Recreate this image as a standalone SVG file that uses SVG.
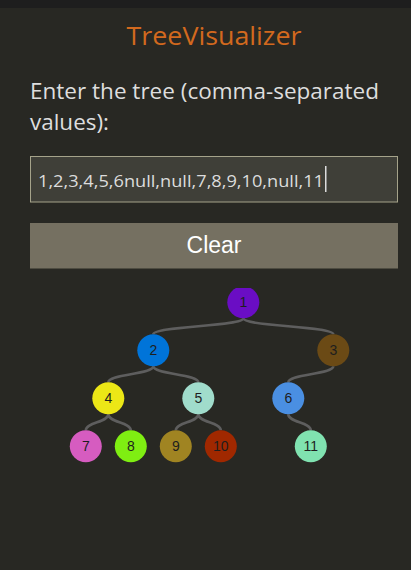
<svg xmlns="http://www.w3.org/2000/svg" width="411" height="570" viewBox="0 0 411 570">
<defs>
<style>
.ui{font-family:"Open Sans","Noto Sans","DejaVu Sans",sans-serif;}
.edge{fill:none;stroke:#5e5e5e;stroke-width:2.6;}
.node circle{stroke:none;}
.node text{font-family:"Liberation Sans",Arial,sans-serif;font-size:14px;fill:#1e1e1e;text-anchor:middle;dominant-baseline:central;}
</style>
<clipPath id="treeClip"><rect x="0" y="288" width="411" height="282"/></clipPath>
</defs>
<rect x="0" y="0" width="411" height="570" fill="#282823"/>
<rect x="0" y="0" width="411" height="8" fill="#1e1e1e"/>
<g id="title"><text class="ui" x="214" y="45" font-size="26" fill="#d2691e" text-anchor="middle" textLength="175" lengthAdjust="spacingAndGlyphs">TreeVisualizer</text></g>
<g id="label">
<text class="ui" x="30" y="99" font-size="21" fill="#dedede" textLength="349" lengthAdjust="spacingAndGlyphs">Enter the tree (comma-separated</text>
<text class="ui" x="30" y="130" font-size="21" fill="#dedede" textLength="79" lengthAdjust="spacingAndGlyphs">values):</text>
</g>
<g id="input">
<rect x="30.5" y="156.5" width="367" height="45.5" fill="#3f3f38" stroke="#a5a38a" stroke-width="1"/>
<text class="ui" x="38" y="187" font-size="17" fill="#dcdcdc" textLength="286" lengthAdjust="spacingAndGlyphs">1,2,3,4,5,6null,null,7,8,9,10,null,11</text>
<rect x="325" y="166" width="1.5" height="26" fill="#dcdcdc"/>
</g>
<g id="clear-button">
<rect x="30" y="223" width="368" height="45.5" fill="#757061"/>
<text x="214" y="253.3" font-family="Liberation Sans, Arial, sans-serif" font-size="23" fill="#ffffff" text-anchor="middle">Clear</text>
</g>
<g clip-path="url(#treeClip)">
<g id="connectors">
<path class="edge" d="M243.3,318.3 C243.3,326.3 153.3,326.3 153.3,334.3"/>
<path class="edge" d="M243.3,318.3 C243.3,326.3 333.3,326.3 333.3,334.3"/>
<path class="edge" d="M153.3,366.3 C153.3,374.3 108.3,374.3 108.3,382.3"/>
<path class="edge" d="M153.3,366.3 C153.3,374.3 198.3,374.3 198.3,382.3"/>
<path class="edge" d="M333.3,366.3 C333.3,374.3 288.3,374.3 288.3,382.3"/>
<path class="edge" d="M108.3,414.3 C108.3,422.3 85.8,422.3 85.8,430.3"/>
<path class="edge" d="M108.3,414.3 C108.3,422.3 130.8,422.3 130.8,430.3"/>
<path class="edge" d="M198.3,414.3 C198.3,422.3 175.8,422.3 175.8,430.3"/>
<path class="edge" d="M198.3,414.3 C198.3,422.3 220.8,422.3 220.8,430.3"/>
<path class="edge" d="M288.3,414.3 C288.3,422.3 310.8,422.3 310.8,430.3"/>
</g>
<g id="node-1" class="node"><circle cx="243.3" cy="302.3" r="16" fill="#6a0dc4"/><text x="243.3" y="302.3">1</text></g>
<g id="node-2" class="node"><circle cx="153.3" cy="350.3" r="16" fill="#0074d9"/><text x="153.3" y="350.3">2</text></g>
<g id="node-3" class="node"><circle cx="333.3" cy="350.3" r="16" fill="#6b4a15"/><text x="333.3" y="350.3">3</text></g>
<g id="node-4" class="node"><circle cx="108.3" cy="398.3" r="16" fill="#ece716"/><text x="108.3" y="398.3">4</text></g>
<g id="node-5" class="node"><circle cx="198.3" cy="398.3" r="16" fill="#a0dccb"/><text x="198.3" y="398.3">5</text></g>
<g id="node-6" class="node"><circle cx="288.3" cy="398.3" r="16" fill="#4a8fe2"/><text x="288.3" y="398.3">6</text></g>
<g id="node-7" class="node"><circle cx="85.8" cy="446.3" r="16" fill="#d65cc0"/><text x="85.8" y="446.3">7</text></g>
<g id="node-8" class="node"><circle cx="130.8" cy="446.3" r="16" fill="#7fee12"/><text x="130.8" y="446.3">8</text></g>
<g id="node-9" class="node"><circle cx="175.8" cy="446.3" r="16" fill="#a08422"/><text x="175.8" y="446.3">9</text></g>
<g id="node-10" class="node"><circle cx="220.8" cy="446.3" r="16" fill="#a02800"/><text x="220.8" y="446.3">10</text></g>
<g id="node-11" class="node"><circle cx="310.8" cy="446.3" r="16" fill="#80e2b0"/><text x="310.8" y="446.3">11</text></g>
</g>
</svg>
